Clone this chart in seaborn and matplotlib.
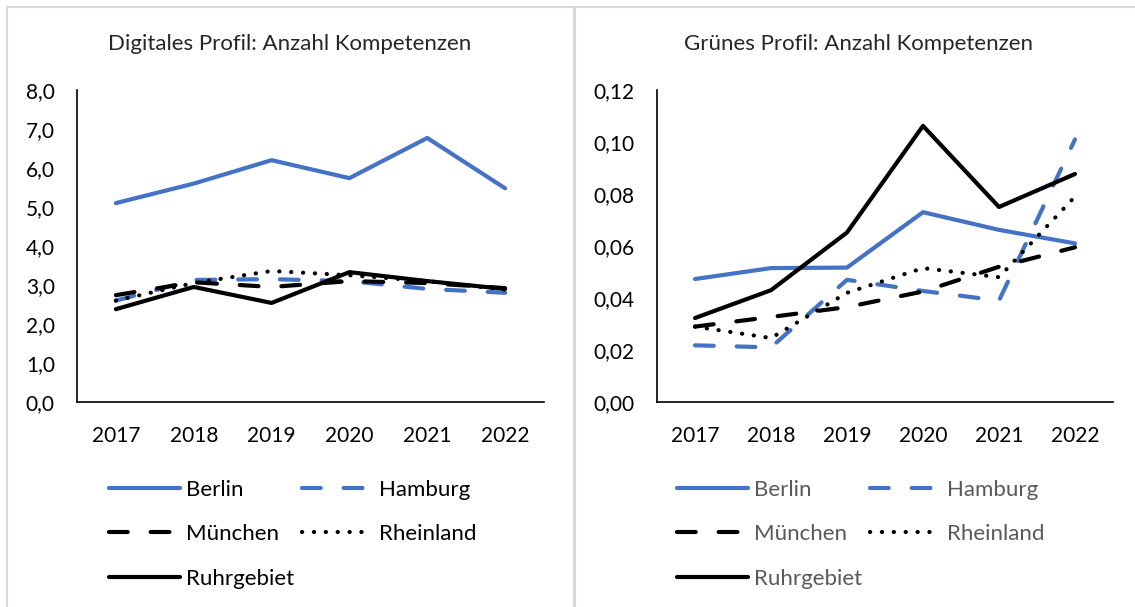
import matplotlib
matplotlib.use("Agg")
import matplotlib.pyplot as plt
from matplotlib.patches import Rectangle
from matplotlib.ticker import FuncFormatter
import pandas as pd
import seaborn as sns

years = [2017, 2018, 2019, 2020, 2021, 2022]
regions = ["Berlin", "Hamburg", "München", "Rheinland", "Ruhrgebiet"]

# Digitales Profil
dig_berlin = [5.10, 5.60, 6.20, 5.74, 6.77, 5.48]
dig_hamburg = [2.60, 3.13, 3.15, 3.10, 2.90, 2.80]
dig_muenchen = [2.74, 3.07, 2.95, 3.10, 3.05, 2.92]
dig_rheinland = [2.60, 3.05, 3.36, 3.25, 3.10, 2.88]
dig_ruhr = [2.38, 2.95, 2.54, 3.33, 3.10, 2.90]

# Grünes Profil
gr_berlin = [0.0473, 0.0515, 0.0517, 0.0730, 0.0662, 0.0610]
gr_hamburg = [0.0218, 0.0210, 0.0470, 0.0427, 0.0390, 0.1010]
gr_muenchen = [0.0290, 0.0327, 0.0365, 0.0425, 0.0520, 0.0595]
gr_rheinland = [0.0290, 0.0246, 0.0420, 0.0515, 0.0480, 0.0790]
gr_ruhr = [0.0323, 0.0430, 0.0652, 0.1062, 0.0750, 0.0877]


def long_df(series):
    rows = []
    for reg, vals in zip(regions, series):
        for y, v in zip(years, vals):
            rows.append({"Jahr": y, "Region": reg, "Wert": v})
    return pd.DataFrame(rows)


df_dig = long_df([dig_berlin, dig_hamburg, dig_muenchen, dig_rheinland, dig_ruhr])
df_gr = long_df([gr_berlin, gr_hamburg, gr_muenchen, gr_rheinland, gr_ruhr])

sns.set_style("white")
plt.rcParams["font.family"] = ["Lato", "DejaVu Sans"]
plt.rcParams["lines.dash_capstyle"] = "round"
plt.rcParams["lines.solid_capstyle"] = "round"

blue = "#4472c4"
palette = {"Berlin": blue, "Hamburg": blue, "München": "black",
           "Rheinland": "black", "Ruhrgebiet": "black"}
dashes = {"Berlin": "", "Hamburg": (4.5, 5.5), "München": (4.5, 5.5),
          "Rheinland": (0.05, 2.8), "Ruhrgebiet": ""}

W, H = 1135, 607
fig = plt.figure(figsize=(W / 100, H / 100), dpi=100)

# panel frames
fig.add_artist(Rectangle((7 / W, -0.05), 567 / W, 1 - 7 / H + 0.05, transform=fig.transFigure,
                         fill=False, ec="#d9d9d9", lw=1.5))
fig.add_artist(Rectangle((575 / W, -0.05), 1.0, 1 - 7 / H + 0.05, transform=fig.transFigure,
                         fill=False, ec="#d9d9d9", lw=1.5))

ax1 = fig.add_axes([77 / W, (H - 402) / H, 467 / W, 312 / H])
ax2 = fig.add_axes([657 / W, (H - 402) / H, 456 / W, 312 / H])

panels = [
    (ax1, df_dig, (0, 8), [0, 1, 2, 3, 4, 5, 6, 7, 8], 1, "Digitales Profil: Anzahl Kompetenzen",
     290, "black", 0.026),
    (ax2, df_gr, (0, 0.12), [0, 0.02, 0.04, 0.06, 0.08, 0.10, 0.12], 2,
     "Grünes Profil: Anzahl Kompetenzen", 858, "#595959", 0.0),
]

for ax, df, ylim, yt, dec, title, tx, legcol, lx in panels:
    sns.lineplot(data=df, x="Jahr", y="Wert", hue="Region", style="Region",
                 palette=palette, dashes=dashes, linewidth=3, ax=ax)
    ax.set_xlim(2016.5, 2022.5)
    ax.set_ylim(*ylim)
    ax.set_yticks(yt)
    ax.set_xticks(years)
    ax.yaxis.set_major_formatter(FuncFormatter(
        lambda v, p, d=dec: f"{v:.{d}f}".replace(".", ",")))
    ax.set_xlabel("")
    ax.set_ylabel("")
    for s in ["top", "right"]:
        ax.spines[s].set_visible(False)
    for s in ["left", "bottom"]:
        ax.spines[s].set_color("black")
        ax.spines[s].set_linewidth(1.2)
    ax.tick_params(axis="both", length=0, labelsize=15, colors="black")
    ax.tick_params(axis="y", pad=16)
    ax.tick_params(axis="x", pad=17)
    fig.text(tx / W, 1 - 44 / H, title, ha="center", va="center", fontsize=16)

    handles, labels = ax.get_legend_handles_labels()
    order = [0, 2, 4, 1, 3]
    ax.get_legend().remove()
    leg = ax.legend([handles[i] for i in order], [labels[i] for i in order],
                    ncol=2, loc="upper left", bbox_to_anchor=(lx, -0.185),
                    frameon=False, fontsize=16, handlelength=3.2, handletextpad=0.27,
                    columnspacing=0.35, labelspacing=1.1, labelcolor=legcol)
    for h in leg.get_lines():
        h.set_linewidth(3)

fig.savefig("out.png", dpi=100)
